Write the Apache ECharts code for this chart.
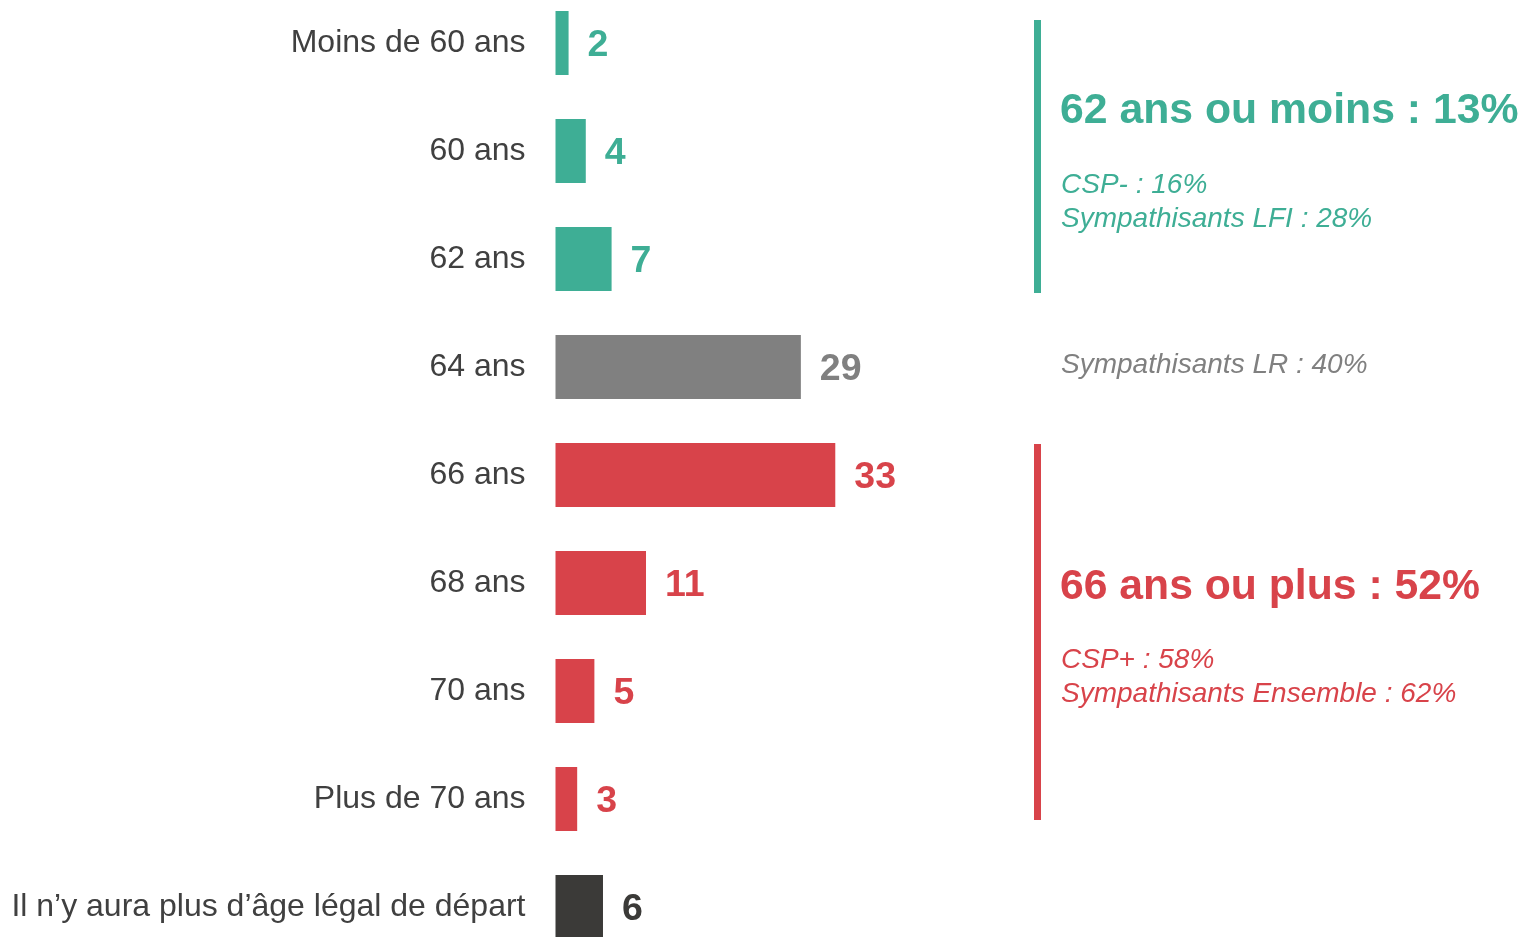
<!DOCTYPE html>
<html>
<head>
<meta charset="utf-8">
<script src="https://cdn.jsdelivr.net/npm/echarts@6/dist/echarts.min.js"></script>
<style>
html,body{margin:0;padding:0;background:#fff;}
#chart{width:1525px;height:937px;}
</style>
</head>
<body>
<div id="chart"></div>
<script>
const categories = ['Moins de 60 ans','60 ans','62 ans','64 ans','66 ans','68 ans','70 ans','Plus de 70 ans','Il n\u2019y aura plus d\u2019\u00e2ge l\u00e9gal de d\u00e9part'];
const values = [2, 4, 7, 29, 33, 11, 5, 3, 6];
const groups = ['low','low','low','mid','high','high','high','high','none'];
const lowTitle = '62 ans ou moins : 13%';
const lowDetails = ['CSP- : 16%', 'Sympathisants LFI : 28%'];
const midDetails = ['Sympathisants LR : 40%'];
const highTitle = '66 ans ou plus : 52%';
const highDetails = ['CSP+ : 58%', 'Sympathisants Ensemble : 62%'];

const palette = {low:'#3EAE95', mid:'#808080', high:'#D8434A', none:'#3B3A38'};
const FONT = '"Liberation Sans", Arial, sans-serif';

const chart = echarts.init(document.getElementById('chart'), null, {renderer:'canvas'});

const seriesData = values.map((v,i)=>({
  value: v,
  itemStyle: {color: palette[groups[i]]},
  label: {color: palette[groups[i]]}
}));

const option = {
  animation:false,
  backgroundColor:'#fff',
  grid:{left:555.5, top:-11, width:340, height:972, containLabel:false, outerBoundsMode:'none'},
  xAxis:{type:'value', min:0.48, max:40, show:false},
  yAxis:{type:'category', data:categories, inverse:true,
    axisLine:{show:false}, axisTick:{show:false}, splitLine:{show:false},
    axisLabel:{fontSize:32, color:'#404040', fontFamily:FONT, margin:30, padding:[2,0,0,0]}
  },
  series:[{
    type:'bar', data:seriesData, barWidth:64, clip:true,
    label:{show:true, position:'right', distance:19, offset:[0,3], fontSize:37.5, fontWeight:'bold', fontFamily:FONT}
  }],
  graphic:[
    {type:'rect', shape:{x:1034, y:20, width:7, height:273}, style:{fill:palette.low}},
    {type:'rect', shape:{x:1034, y:444, width:7, height:376}, style:{fill:palette.high}},
    {type:'text', x:1060, y:111, style:{text:lowTitle, fill:palette.low, font:'bold 42.75px '+FONT, verticalAlign:'middle'}},
    {type:'text', x:1061, y:185, style:{text:lowDetails[0], fill:palette.low, font:'italic 28px '+FONT, verticalAlign:'middle'}},
    {type:'text', x:1061, y:219, style:{text:lowDetails[1], fill:palette.low, font:'italic 28px '+FONT, verticalAlign:'middle'}},
    {type:'text', x:1061, y:365, style:{text:midDetails[0], fill:palette.mid, font:'italic 28px '+FONT, verticalAlign:'middle'}},
    {type:'text', x:1060, y:587, style:{text:highTitle, fill:palette.high, font:'bold 42.7px '+FONT, verticalAlign:'middle'}},
    {type:'text', x:1061, y:660, style:{text:highDetails[0], fill:palette.high, font:'italic 28px '+FONT, verticalAlign:'middle'}},
    {type:'text', x:1061, y:694, style:{text:highDetails[1], fill:palette.high, font:'italic 28px '+FONT, verticalAlign:'middle'}}
  ]
};
chart.setOption(option);
</script>
</body>
</html>
